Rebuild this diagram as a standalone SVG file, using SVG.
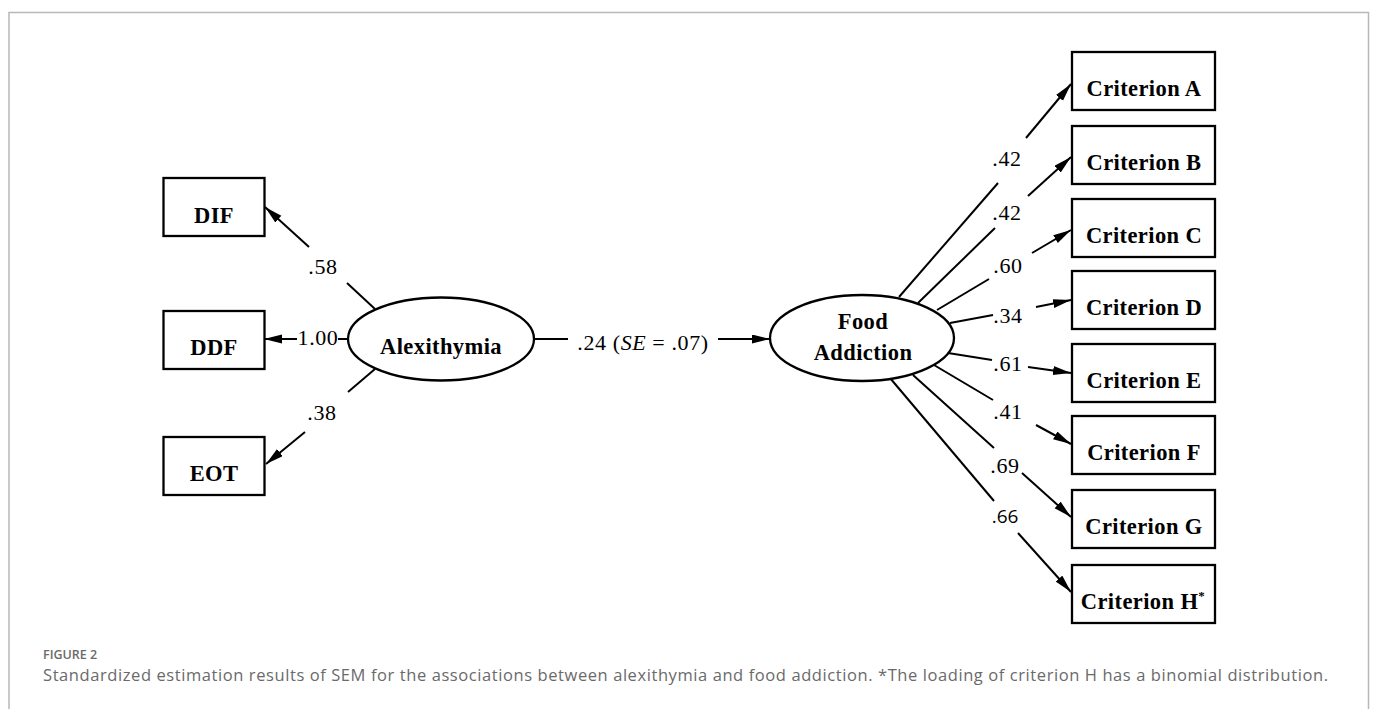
<svg xmlns="http://www.w3.org/2000/svg" width="1375" height="709" viewBox="0 0 1375 709">
<style>
.box{fill:#fff;stroke:#000;stroke-width:2.3}
.ell{fill:#fff;stroke:#000;stroke-width:2.3}
.lbl{font-family:"Liberation Serif","Times New Roman",serif;font-weight:bold;font-size:22.5px;letter-spacing:0.4px;text-anchor:middle;fill:#000}
.num{font-family:"Liberation Serif","Times New Roman",serif;font-size:22px;letter-spacing:0.6px;text-anchor:middle;fill:#000}
.sans{font-family:"Open Sans","Liberation Sans",sans-serif;font-size:19px;text-anchor:middle;fill:#000}
.ln{stroke:#000;stroke-width:2;fill:none}
.arr{stroke:#000;stroke-width:2;fill:none;marker-end:url(#ah)}
.cap{font-family:"Open Sans","Liberation Sans",sans-serif;fill:#6a6a6a}
</style>
<defs>
<marker id="ah" markerUnits="userSpaceOnUse" markerWidth="20" markerHeight="10" refX="18" refY="4.5" orient="auto">
<path d="M0,0 L18,4.5 L0,9 Z" fill="#000"/>
</marker>
</defs>
<path d="M9,720 V12.5 H1368.5 V720" fill="none" stroke="#b8b8b8" stroke-width="1.5"/>

<g id="connectors">
<line class="ln" x1="375" y1="309" x2="347" y2="283"/>
<line class="arr" x1="309" y1="247" x2="265" y2="207"/>
<line class="ln" x1="348" y1="339" x2="338" y2="339"/>
<line class="arr" x1="297" y1="339" x2="264" y2="339"/>
<line class="ln" x1="375" y1="369" x2="348" y2="392"/>
<line class="arr" x1="305" y1="432" x2="266" y2="464"/>
<text class="num" x="323" y="274">.58</text>
<text class="num" x="318" y="345">1.00</text>
<text class="num" x="322" y="420">.38</text>

<line class="ln" x1="533" y1="339" x2="568" y2="339"/>
<line class="arr" x1="718" y1="339" x2="770" y2="339"/>
<text class="num" x="643" y="350">.24 (<tspan font-style="italic">SE</tspan> = .07)</text>

<line class="ln" x1="899" y1="297" x2="998" y2="183"/>
<line class="arr" x1="1026" y1="138" x2="1071" y2="84"/>
<text class="num" x="1007" y="166">.42</text>
<line class="ln" x1="918" y1="303" x2="995" y2="228"/>
<line class="arr" x1="1028" y1="196" x2="1071" y2="157"/>
<text class="num" x="1007" y="220">.42</text>
<line class="ln" x1="937" y1="310" x2="989" y2="279"/>
<line class="arr" x1="1032" y1="253" x2="1071" y2="230"/>
<text class="num" x="1008" y="273">.60</text>
<line class="ln" x1="950" y1="323" x2="993" y2="315"/>
<line class="arr" x1="1036" y1="307" x2="1071" y2="300"/>
<text class="num" x="1008" y="323">.34</text>
<line class="ln" x1="948" y1="353" x2="992" y2="360"/>
<line class="arr" x1="1028" y1="367" x2="1071" y2="373"/>
<text class="num" x="1008" y="371">.61</text>
<line class="ln" x1="934" y1="365" x2="993" y2="400"/>
<line class="arr" x1="1036" y1="425" x2="1071" y2="444"/>
<text class="num" x="1008" y="419">.41</text>
<line class="ln" x1="913" y1="375" x2="994" y2="448"/>
<line class="arr" x1="1022" y1="473" x2="1071" y2="517"/>
<text class="num" x="1005" y="473">.69</text>
<line class="ln" x1="890" y1="378" x2="994" y2="501"/>
<line class="arr" x1="1018" y1="533" x2="1071" y2="592"/>
<text class="sans" x="1005" y="523">.66</text>
</g>

<g id="DIF"><rect class="box" x="163.5" y="178" width="101" height="58"/><text class="lbl" x="214" y="223">DIF</text></g>
<g id="DDF"><rect class="box" x="163.5" y="311" width="101" height="58"/><text class="lbl" x="214" y="355">DDF</text></g>
<g id="EOT"><rect class="box" x="163.5" y="437" width="101" height="58"/><text class="lbl" x="214" y="481">EOT</text></g>

<g id="Alexithymia"><ellipse class="ell" cx="441" cy="339" rx="93" ry="41.5"/><text class="lbl" x="441" y="354">Alexithymia</text></g>
<g id="FoodAddiction"><ellipse class="ell" cx="862" cy="338" rx="92" ry="43"/><text class="lbl" x="863" y="329">Food</text><text class="lbl" x="863" y="360">Addiction</text></g>

<g id="CritA"><rect class="box" x="1072" y="52" width="143" height="58"/><text class="lbl" x="1144" y="96">Criterion A</text></g>
<g id="CritB"><rect class="box" x="1072" y="126" width="143" height="58"/><text class="lbl" x="1144" y="170">Criterion B</text></g>
<g id="CritC"><rect class="box" x="1072" y="199" width="143" height="58"/><text class="lbl" x="1144" y="243">Criterion C</text></g>
<g id="CritD"><rect class="box" x="1072" y="271" width="143" height="58"/><text class="lbl" x="1144" y="315">Criterion D</text></g>
<g id="CritE"><rect class="box" x="1072" y="344" width="143" height="58"/><text class="lbl" x="1144" y="388">Criterion E</text></g>
<g id="CritF"><rect class="box" x="1072" y="416" width="143" height="58"/><text class="lbl" x="1144" y="460">Criterion F</text></g>
<g id="CritG"><rect class="box" x="1072" y="490" width="143" height="58"/><text class="lbl" x="1144" y="534">Criterion G</text></g>
<g id="CritH"><rect class="box" x="1072" y="565" width="143" height="58"/><text class="lbl" x="1143" y="609">Criterion H<tspan font-size="13" dy="-9">*</tspan></text></g>

<g id="caption">
<text class="cap" x="43" y="659" font-size="12.5" font-weight="600" fill="#666">FIGURE 2</text>
<text class="cap" x="43" y="681" font-size="16.5" textLength="1285" lengthAdjust="spacing">Standardized estimation results of SEM for the associations between alexithymia and food addiction. *The loading of criterion H has a binomial distribution.</text>
</g>
</svg>
